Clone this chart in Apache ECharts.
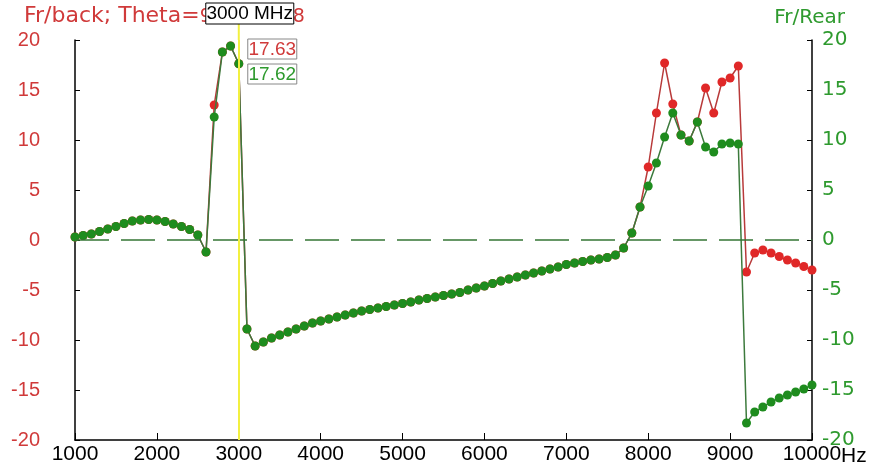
<!DOCTYPE html>
<html>
<head>
<meta charset="utf-8">
<script src="https://cdn.jsdelivr.net/npm/echarts@6/dist/echarts.min.js"></script>
<style>
html,body{margin:0;padding:0;background:#fff;}
#chart{width:887px;height:468px;}
</style>
</head>
<body>
<div id="chart"></div>
<script>
// Frequencies (MHz)
const freqs = [1000,1100,1200,1300,1400,1500,1600,1700,1800,1900,
  2000,2100,2200,2300,2400,2500,2600,2700,2800,2900,
  3000,3100,3200,3300,3400,3500,3600,3700,3800,3900,
  4000,4100,4200,4300,4400,4500,4600,4700,4800,4900,
  5000,5100,5200,5300,5400,5500,5600,5700,5800,5900,
  6000,6100,6200,6300,6400,6500,6600,6700,6800,6900,
  7000,7100,7200,7300,7400,7500,7600,7700,7800,7900,
  8000,8100,8200,8300,8400,8500,8600,8700,8800,8900,
  9000,9100,9200,9300,9400,9500,9600,9700,9800,9900,10000];

// Fr/back (red, left axis)
const frBack = [0.3,0.45,0.6,0.85,1.1,1.35,1.65,1.9,2.0,2.05,
  2.0,1.85,1.6,1.35,1.05,0.5,-1.2,13.5,18.8,19.4,
  17.63,-8.9,-10.6,-10.2,-9.8,-9.5,-9.2,-8.9,-8.6,-8.3,
  -8.1,-7.9,-7.7,-7.5,-7.3,-7.1,-6.95,-6.8,-6.65,-6.5,
  -6.35,-6.2,-6.0,-5.85,-5.7,-5.55,-5.4,-5.25,-5.0,-4.8,
  -4.6,-4.35,-4.1,-3.9,-3.7,-3.5,-3.3,-3.1,-2.9,-2.7,
  -2.45,-2.3,-2.15,-2.0,-1.9,-1.75,-1.5,-0.8,0.7,3.3,
  7.3,12.7,17.7,13.6,10.5,9.9,11.8,15.2,12.7,15.8,
  16.2,17.4,-3.2,-1.3,-1.0,-1.3,-1.65,-2.0,-2.3,-2.65,-3.0];

// Fr/Rear (green, right axis)
const frRear = [0.3,0.45,0.6,0.85,1.1,1.35,1.65,1.9,2.0,2.05,
  2.0,1.85,1.6,1.35,1.05,0.5,-1.2,12.3,18.8,19.4,
  17.62,-8.9,-10.6,-10.2,-9.8,-9.5,-9.2,-8.9,-8.6,-8.3,
  -8.1,-7.9,-7.7,-7.5,-7.3,-7.1,-6.95,-6.8,-6.65,-6.5,
  -6.35,-6.2,-6.0,-5.85,-5.7,-5.55,-5.4,-5.25,-5.0,-4.8,
  -4.6,-4.35,-4.1,-3.9,-3.7,-3.5,-3.3,-3.1,-2.9,-2.7,
  -2.45,-2.3,-2.15,-2.0,-1.9,-1.75,-1.5,-0.8,0.7,3.3,
  5.4,7.7,10.3,12.7,10.5,9.9,11.8,9.3,8.8,9.6,
  9.7,9.6,-18.3,-17.2,-16.7,-16.2,-15.8,-15.5,-15.2,-14.9,-14.5];

const xTicks = [1000,2000,3000,4000,5000,6000,7000,8000,9000,10000];
const yTicks = [-20,-15,-10,-5,0,5,10,15,20];
const cursorFreq = 3000;
const cursorBack = '17.63';
const cursorRear = '17.62';

const RED = '#e02828', RED_LINE = '#b83a3a', RED_TXT = '#d03a3a';
const GREEN = '#1e8c1e', GREEN_LINE = '#3c7a3c', GREEN_TXT = '#2e9a2e';
const FONT = 'Liberation Sans, Arial, sans-serif';
const WFONT = 'DejaVu Sans, sans-serif';

const chart = echarts.init(document.getElementById('chart'), null, {renderer:'canvas'});

const yAxisBase = {
  type:'value', min:yTicks[0], max:yTicks[yTicks.length-1], interval:5,
  axisLine:{show:true, onZero:false, lineStyle:{color:'#000', width:1.5}},
  axisTick:{show:true, inside:true, length:5, lineStyle:{color:'#000'}},
  splitLine:{show:false}
};

chart.setOption({
  animation:false,
  backgroundColor:'#fff',
  title:[
    {text:'{a|Fr/back; Theta=}{b|90, Phi=98}', left:19, top:0,
     textStyle:{color:RED_TXT, fontSize:22, fontWeight:'normal', fontFamily:WFONT,
       rich:{
         a:{color:RED_TXT, fontSize:22, fontFamily:WFONT},
         b:{color:RED_TXT, fontSize:19, fontFamily:WFONT, padding:[3,0,0,0]}
       }}},
    {text:'Fr/Rear', right:37, top:3,
     textStyle:{color:GREEN_TXT, fontSize:20, fontWeight:'normal', fontFamily:WFONT}}
  ],
  grid:{left:75, right:75, top:40, bottom:28},
  xAxis:{
    type:'value', min:xTicks[0], max:xTicks[xTicks.length-1], interval:1000,
    axisLine:{show:true, onZero:false, lineStyle:{color:'#000', width:1.5}},
    axisTick:{show:true, inside:true, length:7, lineStyle:{color:'#000'}},
    splitLine:{show:false},
    axisLabel:{color:'#000', fontSize:21, fontFamily:FONT, margin:4,
      formatter:function(v){return String(v);}}
  },
  yAxis:[
    Object.assign({}, yAxisBase, {position:'left',
      axisLabel:{color:RED_TXT, fontSize:20, fontFamily:FONT, margin:35}}),
    Object.assign({}, yAxisBase, {position:'right',
      axisLabel:{color:GREEN_TXT, fontSize:20, fontFamily:WFONT, margin:10}})
  ],
  series:[
    {
      type:'line', yAxisIndex:0, z:1, data:[], silent:true,
      markLine:{
        silent:true, symbol:'none', animation:false,
        label:{show:false},
        data:[
          {yAxis:0, lineStyle:{color:'#357535', width:1.5, type:[34,12]}},
          {xAxis:cursorFreq, lineStyle:{color:'#f2f040', width:2, type:'solid'}}
        ]
      }
    },
    {
      name:'Fr/back', type:'line', yAxisIndex:0, z:2,
      data:freqs.map((f,i)=>[f, frBack[i]]),
      symbol:'circle', symbolSize:9, showSymbol:true,
      lineStyle:{color:RED_LINE, width:1.5},
      itemStyle:{color:RED}
    },
    {
      name:'Fr/Rear', type:'line', yAxisIndex:1, z:3,
      data:freqs.map((f,i)=>[f, frRear[i]]),
      symbol:'circle', symbolSize:9, showSymbol:true,
      lineStyle:{color:GREEN_LINE, width:1.5},
      itemStyle:{color:GREEN}
    }
  ]
});

// Cursor annotations positioned from the axis scales
const cx = chart.convertToPixel({xAxisIndex:0}, cursorFreq);
const xEnd = chart.convertToPixel({xAxisIndex:0}, xTicks[xTicks.length-1]);
const yTop = chart.convertToPixel({yAxisIndex:0}, yTicks[yTicks.length-1]);
const yBottom = chart.convertToPixel({yAxisIndex:0}, yTicks[0]);

chart.setOption({
  graphic:[
    {type:'line', shape:{x1:cx, y1:24, x2:cx, y2:yTop}, style:{stroke:'#f2f040', lineWidth:2}, z:5},
    {type:'rect', shape:{x:cx-33, y:3, width:88, height:21}, style:{fill:'#fff', stroke:'#000', lineWidth:1}, z:10},
    {type:'text', x:cx+11, y:14, style:{text:cursorFreq+' MHz', fill:'#000', font:'19px '+FONT, textAlign:'center', textVerticalAlign:'middle'}, z:11},
    {type:'rect', shape:{x:cx+9, y:39, width:49, height:20}, style:{fill:'#fff', stroke:'#888', lineWidth:1}, z:10},
    {type:'text', x:cx+33.5, y:49.5, style:{text:cursorBack, fill:RED_TXT, font:'19px '+FONT, textAlign:'center', textVerticalAlign:'middle'}, z:11},
    {type:'rect', shape:{x:cx+9, y:64, width:49, height:20}, style:{fill:'#fff', stroke:'#888', lineWidth:1}, z:10},
    {type:'text', x:cx+33.5, y:74.5, style:{text:cursorRear, fill:GREEN_TXT, font:'19px '+FONT, textAlign:'center', textVerticalAlign:'middle'}, z:11},
    {type:'text', x:xEnd+29, y:yBottom+16, style:{text:'Hz', fill:'#000', font:'21px '+FONT, textAlign:'left', textVerticalAlign:'middle'}, z:11}
  ]
});
</script>
</body>
</html>
